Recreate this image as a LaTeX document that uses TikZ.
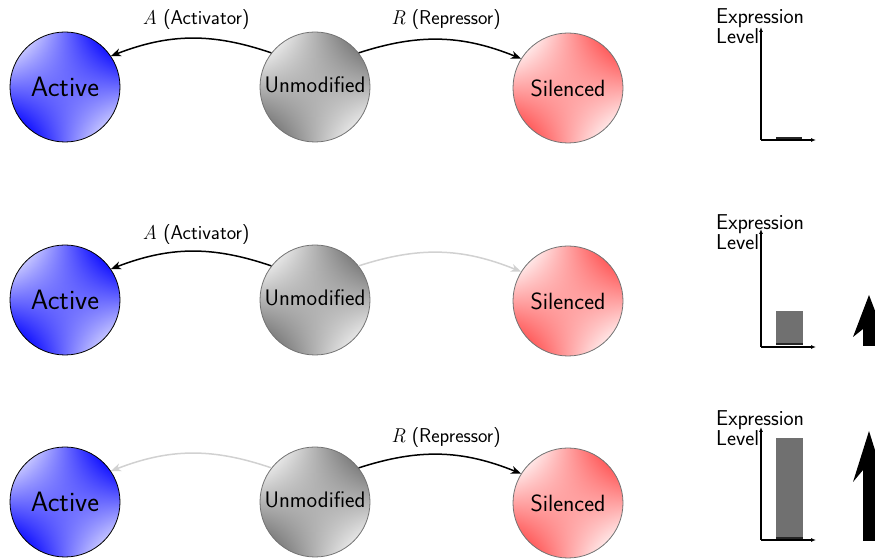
\documentclass[tikz,border=0pt]{standalone}
\usepackage{fontspec}
\usetikzlibrary{arrows.meta}
% saddle shadings: light at upper left / lower right, dark at upper right / lower left
\pgfdeclarefunctionalshading{saddleblue}{\pgfpoint{0bp}{0bp}}{\pgfpoint{100bp}{100bp}}{}{
  50 sub 25 div exch 50 sub 25 div mul 0.8 mul 0.5 add
  dup 0 lt {pop 0} if dup 1 gt {pop 1} if
  dup dup 0 mul 1 add 3 1 roll -0.85 mul 0.85 add 3 1 roll -0.85 mul 0.85 add 3 1 roll
}
\pgfdeclarefunctionalshading{saddlegray}{\pgfpoint{0bp}{0bp}}{\pgfpoint{100bp}{100bp}}{}{
  50 sub 25 div exch 50 sub 25 div mul 0.8 mul 0.5 add
  dup 0 lt {pop 0} if dup 1 gt {pop 1} if
  dup dup -0.5 mul 0.95 add 3 1 roll -0.5 mul 0.95 add 3 1 roll -0.5 mul 0.95 add 3 1 roll
}
\pgfdeclarefunctionalshading{saddlered}{\pgfpoint{0bp}{0bp}}{\pgfpoint{100bp}{100bp}}{}{
  50 sub 25 div exch 50 sub 25 div mul 0.8 mul 0.5 add
  dup 0 lt {pop 0} if dup 1 gt {pop 1} if
  dup dup -0.67 mul 0.97 add 3 1 roll -0.67 mul 0.97 add 3 1 roll 0 mul 1 add 3 1 roll
}
\tikzset{
  state/.style={circle, minimum size=110pt, inner sep=0pt, line width=0.8pt,
    font=\sffamily\fontsize{22.5}{26}\selectfont},
  activestate/.style={state, draw=black, shading=saddleblue,
    font=\sffamily\fontsize{28}{30}\selectfont},
  unmodstate/.style={state, draw=black!55, shading=saddlegray, text depth=4pt},
  silentstate/.style={state, draw=black!55, shading=saddlered,
    font=\sffamily\fontsize{23.5}{26}\selectfont},
  curvearrow/.style={line width=1.5pt, -{Stealth[length=10pt,width=8pt,inset=3pt]}},
  fadedarrow/.style={curvearrow, draw=black!18},
  arrowlabel/.style={font=\sffamily\fontsize{20}{22}\selectfont, inner sep=0pt},
  axisline/.style={line width=1.3pt, -{Latex[length=5pt,width=4pt]}},
  ylabel/.style={font=\sffamily\fontsize{21.5}{20}\selectfont, align=left, anchor=north west, inner sep=0pt},
  barfill/.style={fill=black!56},
  barbase/.style={draw=black!85, line width=2pt},
  bigarrow/.style={fill=black}
}
\begin{document}
\begin{tikzpicture}[x=1pt,y=1pt]
\useasboundingbox (0,0) rectangle (875,559);

% ---------- Row 1 ----------
\node[activestate] (A1) at (65,472) {Active};
\node[unmodstate] (U1) at (315,472) {Unmodified};
\node[silentstate] (S1) at (568,471) {Silenced};
\draw[curvearrow] (U1.142) to[bend right=20] (A1.34);
\draw[curvearrow] (U1.38) to[bend left=20] (S1.148);
\node[arrowlabel] (LA1) at (196,539) {{\rmfamily\itshape A} (Activator)};
\node[arrowlabel] (LR1) at (446,539) {{\rmfamily\itshape R} (Repressor)};

\coordinate (O1) at (761,419);
\coordinate (Y1) at (761,532);
\coordinate (X1) at (816,419);
\draw[axisline] (O1) -- (Y1);
\draw[axisline] (O1) -- (X1);
\coordinate (B1a) at (776,421);
\coordinate (B1b) at (802,421);
\draw[barbase] (B1a) -- (B1b);
\node[ylabel] (E1) at (716,551) {Expression\\Level};

% ---------- Row 2 ----------
\node[activestate] (A2) at (65,259) {Active};
\node[unmodstate] (U2) at (315,259) {Unmodified};
\node[silentstate] (S2) at (568,258) {Silenced};
\draw[curvearrow] (U2.142) to[bend right=20] (A2.34);
\draw[fadedarrow] (U2.38) to[bend left=20] (S2.148);
\node[arrowlabel] (LA2) at (196,324) {{\rmfamily\itshape A} (Activator)};

\coordinate (O2) at (761,212);
\coordinate (Y2) at (761,330);
\coordinate (X2) at (816,212);
\fill[barfill] (776,214) rectangle (803,248);
\draw[barbase] (776,215) -- (803,215);
\draw[axisline] (O2) -- (Y2);
\draw[axisline] (O2) -- (X2);
\node[ylabel] (E2) at (716,345) {Expression\\Level};
\fill[bigarrow] (869,264) -- (885,222) -- (875,230) -- (875,213) -- (863,213) -- (863,230) -- (853,222) -- cycle;

% ---------- Row 3 ----------
\node[activestate] (A3) at (65,57) {Active};
\node[unmodstate] (U3) at (315,57) {Unmodified};
\node[silentstate] (S3) at (568,56) {Silenced};
\draw[fadedarrow] (U3.142) to[bend right=20] (A3.34);
\draw[curvearrow] (U3.38) to[bend left=20] (S3.148);
\node[arrowlabel] (LR3) at (446,121) {{\rmfamily\itshape R} (Repressor)};

\coordinate (O3) at (761,19);
\coordinate (Y3) at (761,132);
\coordinate (X3) at (816,19);
\fill[barfill] (776,20) rectangle (803,121);
\draw[barbase] (776,21) -- (803,21);
\draw[axisline] (O3) -- (Y3);
\draw[axisline] (O3) -- (X3);
\node[ylabel] (E3) at (716,149) {Expression\\Level};
\fill[bigarrow] (869,128) -- (885,77) -- (875,89) -- (875,18) -- (863,18) -- (863,89) -- (853,77) -- cycle;
\end{tikzpicture}
\end{document}
